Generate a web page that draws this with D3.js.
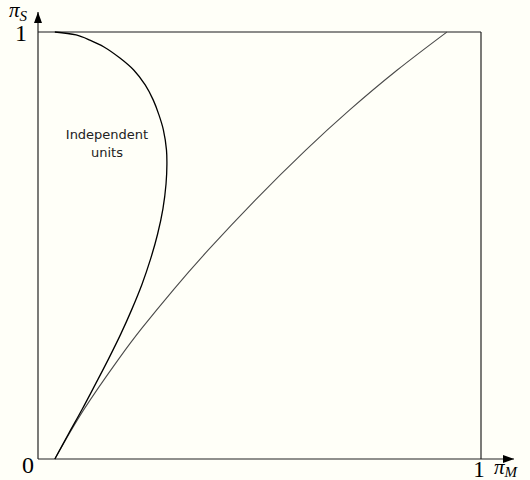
<!DOCTYPE html>
<html>
<head>
<meta charset="utf-8">
<script src="https://cdn.jsdelivr.net/npm/d3@7/dist/d3.min.js"></script>
<style>
  html, body { margin: 0; padding: 0; background: #fffff8; }
  svg { display: block; }
</style>
</head>
<body>
<svg id="chart" width="530" height="480"></svg>
<script>
// Boundary of the independent-units region: [pi_M, pi_S] pairs, ordered by pi_S
const independentCurve = [
  [0.038, 0.000], [0.069, 0.059], [0.100, 0.117], [0.130, 0.176],
  [0.159, 0.234], [0.187, 0.293], [0.212, 0.351], [0.235, 0.410],
  [0.254, 0.468], [0.270, 0.527], [0.282, 0.586], [0.289, 0.644],
  [0.291, 0.691], [0.290, 0.724], [0.283, 0.771], [0.273, 0.806],
  [0.260, 0.841], [0.242, 0.876], [0.216, 0.911], [0.185, 0.939],
  [0.149, 0.965], [0.117, 0.981], [0.086, 0.993], [0.038, 1.000]
];
// Second frontier curve, ordered by pi_M
const frontierCurve = [
  [0.038, 0.000], [0.103, 0.115], [0.182, 0.234], [0.235, 0.307],
  [0.307, 0.398], [0.384, 0.489], [0.491, 0.607], [0.605, 0.724],
  [0.703, 0.817], [0.811, 0.911], [0.923, 1.000]
];
const tickValues = [0, 1];
const tickLabels = ["0", "1"];
const regionLabel = ["Independent", "units"];

const svg = d3.select("#chart");
const x = d3.scaleLinear().domain([0, 1]).range([38, 481]);
const y = d3.scaleLinear().domain([0, 1]).range([459, 32]);

// filled triangle arrowheads for the axes
svg.append("defs").append("marker")
  .attr("id", "arrow").attr("viewBox", "0 0 11 8")
  .attr("refX", 11).attr("refY", 4)
  .attr("markerWidth", 11).attr("markerHeight", 8)
  .attr("markerUnits", "userSpaceOnUse")
  .attr("orient", "auto")
  .append("path").attr("d", "M0,0 L11,4 L0,8 Z").attr("fill", "#000");

// frame: top and right edges at 1
svg.append("line")
  .attr("x1", x(0)).attr("y1", y(1)).attr("x2", x(1)).attr("y2", y(1))
  .attr("stroke", "#666").attr("stroke-width", 1.3);
svg.append("line")
  .attr("x1", x(1)).attr("y1", y(1)).attr("x2", x(1)).attr("y2", y(0))
  .attr("stroke", "#222").attr("stroke-width", 1.2);

// axes with arrows
svg.append("line")
  .attr("x1", x(0)).attr("y1", y(0)).attr("x2", 514).attr("y2", y(0))
  .attr("stroke", "#222").attr("stroke-width", 1.2).attr("marker-end", "url(#arrow)");
svg.append("line")
  .attr("x1", x(0)).attr("y1", y(0)).attr("x2", x(0)).attr("y2", 12)
  .attr("stroke", "#222").attr("stroke-width", 1.2).attr("marker-end", "url(#arrow)");

const frontierLine = d3.line().x(d => x(d[0])).y(d => y(d[1])).curve(d3.curveNatural);
const regionLine = d3.line().x(d => x(d[0])).y(d => y(d[1])).curve(d3.curveCatmullRom.alpha(0.5));

svg.append("path").datum(frontierCurve)
  .attr("d", frontierLine).attr("fill", "none").attr("stroke", "#4a4a4a").attr("stroke-width", 1.1);
svg.append("path").datum(independentCurve)
  .attr("d", regionLine).attr("fill", "none").attr("stroke", "#000").attr("stroke-width", 1.3);

const serif = "'Liberation Serif', 'DejaVu Serif', serif";

// tick labels
svg.append("text").attr("x", x(tickValues[0]) - 4).attr("y", y(0) + 14)
  .attr("text-anchor", "end").attr("font-family", serif).attr("font-size", 24)
  .text(tickLabels[0]);
svg.append("text").attr("x", x(tickValues[1]) - 2).attr("y", y(0) + 18)
  .attr("text-anchor", "middle").attr("font-family", serif).attr("font-size", 23)
  .text(tickLabels[1]);
svg.append("text").attr("x", x(0) - 11).attr("y", y(tickValues[1]) + 9)
  .attr("text-anchor", "end").attr("font-family", serif).attr("font-size", 24)
  .text(tickLabels[1]);

// axis titles
const xt = svg.append("text").attr("x", 494).attr("y", 474)
  .attr("font-family", serif).attr("font-size", 21).attr("font-style", "italic");
xt.append("tspan").text("π");
xt.append("tspan").attr("dy", 3).attr("font-size", 15).text("M");

const yt = svg.append("text").attr("x", 9).attr("y", 17)
  .attr("font-family", serif).attr("font-size", 21).attr("font-style", "italic");
yt.append("tspan").text("π");
yt.append("tspan").attr("dy", 4).attr("font-size", 15).text("S");

// region label
svg.append("text").attr("text-anchor", "middle")
  .attr("font-family", "'DejaVu Sans', sans-serif").attr("font-size", 13).attr("fill", "#222")
  .selectAll("tspan").data(regionLabel).join("tspan")
  .attr("x", 107).attr("y", (d, i) => 139 + i * 18).text(d => d);
</script>
</body>
</html>
